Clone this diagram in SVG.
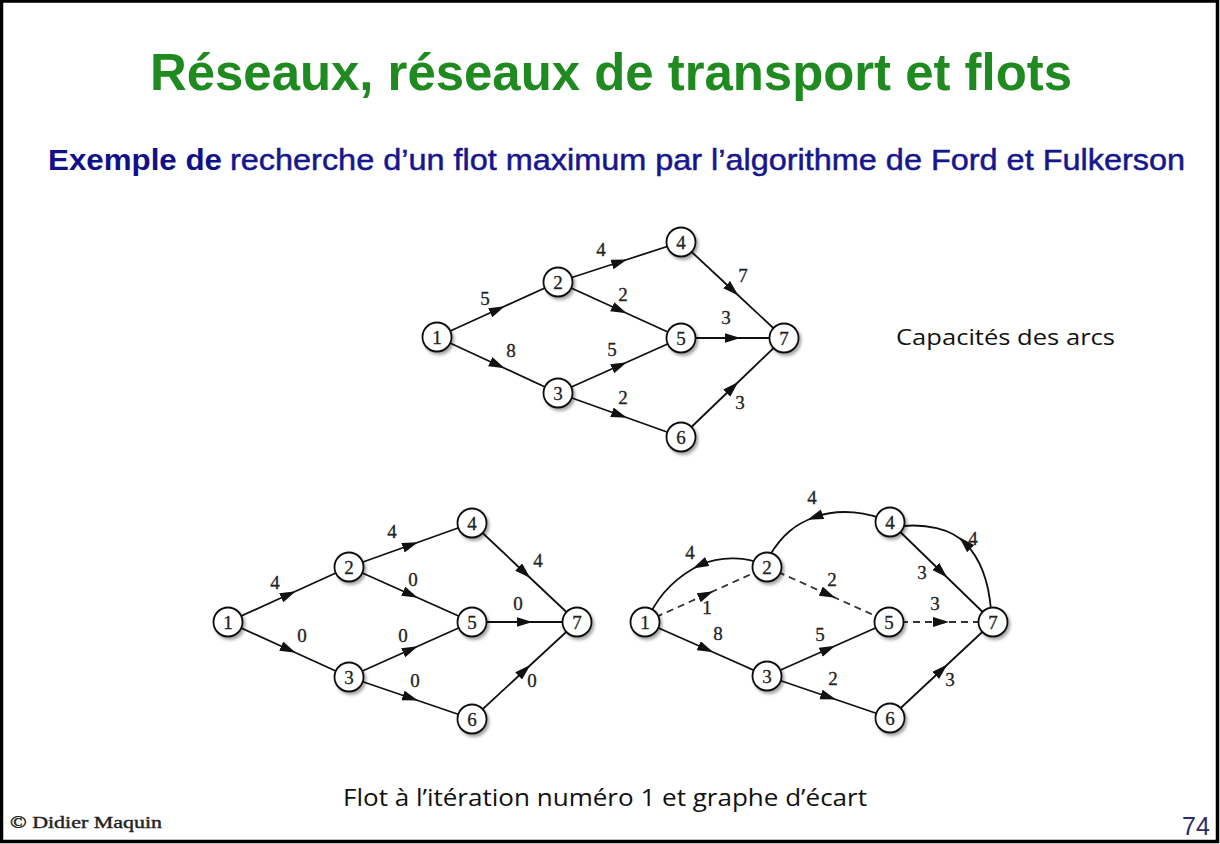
<svg xmlns="http://www.w3.org/2000/svg" width="1220" height="844" viewBox="0 0 1220 844">
  <style>
    .edge { fill: none; stroke: #111; stroke-width: 1.8; marker-mid: url(#arrow); }
    .dash { stroke: #333; stroke-dasharray: 7 5; }
    .node circle { fill: #fff; stroke: #111; stroke-width: 1.8; filter: url(#shadow); }
    .node text, .lbl { font-family: "Liberation Serif", "Times New Roman", serif; font-size: 19px; fill: #222; stroke: #222; stroke-width: 0.3; text-anchor: middle; }
    .cap { font-family: "Open Sans", "Liberation Sans", sans-serif; fill: #111; }
  </style>
  <defs>
    <marker id="arrow" markerUnits="userSpaceOnUse" markerWidth="17" markerHeight="11" refX="8" refY="5" orient="auto">
      <path d="M0,0 L16,5 L0,10 z" fill="#111"/>
    </marker>
    <filter id="shadow" x="-40%" y="-40%" width="190%" height="190%">
      <feDropShadow dx="2" dy="2.5" stdDeviation="1.6" flood-color="#000" flood-opacity="0.35"/>
    </filter>
  </defs>

  <!-- page and frame -->
  <rect x="0" y="0" width="1220" height="844" fill="#fff"/>
  <rect x="1.5" y="1" width="1216" height="840.5" fill="none" stroke="#000" stroke-width="3.5"/>

  <!-- headings -->
  <text x="150" y="90" textLength="922" lengthAdjust="spacingAndGlyphs" font-family="Liberation Sans, Arial, sans-serif" font-size="52" font-weight="bold" fill="#1f8a1f">Réseaux, réseaux de transport et flots</text>
  <text x="48" y="170" textLength="174" lengthAdjust="spacingAndGlyphs" font-family="Liberation Sans, Arial, sans-serif" font-size="30" font-weight="bold" fill="#10108a">Exemple de</text>
  <text x="230" y="170" textLength="955" lengthAdjust="spacingAndGlyphs" font-family="Liberation Sans, Arial, sans-serif" font-size="30" fill="#16168e" stroke="#16168e" stroke-width="0.5">recherche d’un flot maximum par l’algorithme de Ford et Fulkerson</text>

  <!-- capacities graph -->
  <g id="connectors-capacities">
    <path class="edge" d="M437,337 L497.5,309.5 L558,282"/>
    <path class="edge" d="M437,337 L497.5,365 L558,393"/>
    <path class="edge" d="M558,282 L619.5,262 L681,242"/>
    <path class="edge" d="M558,282 L619.5,310 L681,338"/>
    <path class="edge" d="M558,393 L619.5,365.5 L681,338"/>
    <path class="edge" d="M558,393 L619.5,415 L681,437"/>
    <path class="edge" d="M681,242 L732.5,290 L784,338"/>
    <path class="edge" d="M681,338 L732.5,338 L784,338"/>
    <path class="edge" d="M681,437 L732.5,387.5 L784,338"/>
    <text class="lbl" x="485" y="305">5</text>
    <text class="lbl" x="511" y="357">8</text>
    <text class="lbl" x="601" y="256">4</text>
    <text class="lbl" x="623" y="301">2</text>
    <text class="lbl" x="743" y="282">7</text>
    <text class="lbl" x="726" y="324">3</text>
    <text class="lbl" x="612" y="356">5</text>
    <text class="lbl" x="623" y="404">2</text>
    <text class="lbl" x="740" y="409">3</text>
  </g>
  <g id="cap-n1" class="node"><circle cx="437" cy="337" r="14.5"/><text x="437" y="343.5">1</text></g>
  <g id="cap-n2" class="node"><circle cx="558" cy="282" r="14.5"/><text x="558" y="288.5">2</text></g>
  <g id="cap-n3" class="node"><circle cx="558" cy="393" r="14.5"/><text x="558" y="399.5">3</text></g>
  <g id="cap-n4" class="node"><circle cx="681" cy="242" r="14.5"/><text x="681" y="248.5">4</text></g>
  <g id="cap-n5" class="node"><circle cx="681" cy="338" r="14.5"/><text x="681" y="344.5">5</text></g>
  <g id="cap-n6" class="node"><circle cx="681" cy="437" r="14.5"/><text x="681" y="443.5">6</text></g>
  <g id="cap-n7" class="node"><circle cx="784" cy="338" r="14.5"/><text x="784" y="344.5">7</text></g>
  <text class="cap" x="896" y="345" font-size="21" textLength="219" lengthAdjust="spacingAndGlyphs">Capacités des arcs</text>

  <!-- flow graph, iteration 1 -->
  <g id="connectors-flow">
    <path class="edge" d="M228,622 L288.5,594.5 L349,567"/>
    <path class="edge" d="M228,622 L288.5,649.5 L349,677"/>
    <path class="edge" d="M349,567 L410.5,545 L472,523"/>
    <path class="edge" d="M349,567 L410.5,594.5 L472,622"/>
    <path class="edge" d="M349,677 L410.5,649.5 L472,622"/>
    <path class="edge" d="M349,677 L410.5,698 L472,719"/>
    <path class="edge" d="M472,523 L524.5,572.5 L577,622"/>
    <path class="edge" d="M472,622 L524.5,622 L577,622"/>
    <path class="edge" d="M472,719 L524.5,670.5 L577,622"/>
    <text class="lbl" x="275" y="589">4</text>
    <text class="lbl" x="302" y="642">0</text>
    <text class="lbl" x="392" y="538">4</text>
    <text class="lbl" x="413" y="586">0</text>
    <text class="lbl" x="538" y="567">4</text>
    <text class="lbl" x="518" y="610">0</text>
    <text class="lbl" x="403" y="642">0</text>
    <text class="lbl" x="415" y="687">0</text>
    <text class="lbl" x="532" y="687">0</text>
  </g>
  <g id="flow-n1" class="node"><circle cx="228" cy="622" r="14.5"/><text x="228" y="628.5">1</text></g>
  <g id="flow-n2" class="node"><circle cx="349" cy="567" r="14.5"/><text x="349" y="573.5">2</text></g>
  <g id="flow-n3" class="node"><circle cx="349" cy="677" r="14.5"/><text x="349" y="683.5">3</text></g>
  <g id="flow-n4" class="node"><circle cx="472" cy="523" r="14.5"/><text x="472" y="529.5">4</text></g>
  <g id="flow-n5" class="node"><circle cx="472" cy="622" r="14.5"/><text x="472" y="628.5">5</text></g>
  <g id="flow-n6" class="node"><circle cx="472" cy="719" r="14.5"/><text x="472" y="725.5">6</text></g>
  <g id="flow-n7" class="node"><circle cx="577" cy="622" r="14.5"/><text x="577" y="628.5">7</text></g>

  <!-- residual graph -->
  <g id="connectors-residual">
    <path class="edge" d="M767,566 C748,557 722,555 700,565 C680,575 662,590 650,614"/>
    <path class="edge dash" d="M645,622 L706,594.5 L767,567"/>
    <path class="edge" d="M890,522 C868,512 840,508 815,517 C795,524.2 782,535 770,555"/>
    <path class="edge dash" d="M767,567 L828,594.5 L889,622"/>
    <path class="edge" d="M890,522 L941.5,572 L993,622"/>
    <path class="edge" d="M991,610 C989,585 982,560 965,543 C950,528 925,524 903,526"/>
    <path class="edge dash" d="M889,622 L941,622 L993,622"/>
    <path class="edge" d="M645,622 L706,649 L767,676"/>
    <path class="edge" d="M767,676 L828,649 L889,622"/>
    <path class="edge" d="M767,676 L828.5,697 L890,718"/>
    <path class="edge" d="M890,718 L941.5,670 L993,622"/>
    <text class="lbl" x="690" y="559">4</text>
    <text class="lbl" x="707" y="614">1</text>
    <text class="lbl" x="812" y="504">4</text>
    <text class="lbl" x="832" y="586">2</text>
    <text class="lbl" x="922" y="579">3</text>
    <text class="lbl" x="973" y="545">4</text>
    <text class="lbl" x="935" y="610">3</text>
    <text class="lbl" x="718" y="640">8</text>
    <text class="lbl" x="820" y="641">5</text>
    <text class="lbl" x="833" y="685">2</text>
    <text class="lbl" x="950" y="686">3</text>
  </g>
  <g id="res-n1" class="node"><circle cx="645" cy="622" r="14.5"/><text x="645" y="628.5">1</text></g>
  <g id="res-n2" class="node"><circle cx="767" cy="567" r="14.5"/><text x="767" y="573.5">2</text></g>
  <g id="res-n3" class="node"><circle cx="767" cy="676" r="14.5"/><text x="767" y="682.5">3</text></g>
  <g id="res-n4" class="node"><circle cx="890" cy="522" r="14.5"/><text x="890" y="528.5">4</text></g>
  <g id="res-n5" class="node"><circle cx="889" cy="622" r="14.5"/><text x="889" y="628.5">5</text></g>
  <g id="res-n6" class="node"><circle cx="890" cy="718" r="14.5"/><text x="890" y="724.5">6</text></g>
  <g id="res-n7" class="node"><circle cx="993" cy="622" r="14.5"/><text x="993" y="628.5">7</text></g>

  <!-- captions and footer -->
  <text class="cap" x="343" y="806" font-size="23" textLength="524" lengthAdjust="spacingAndGlyphs">Flot à l’itération numéro 1 et graphe d’écart</text>
  <text x="10" y="828" font-family="Liberation Serif, Times New Roman, serif" font-size="17" fill="#222" stroke="#222" stroke-width="0.4" textLength="152" lengthAdjust="spacingAndGlyphs">© Didier Maquin</text>
  <text x="1182" y="835" font-family="Liberation Sans, Arial, sans-serif" font-size="25" fill="#2b2b6b">74</text>
</svg>
